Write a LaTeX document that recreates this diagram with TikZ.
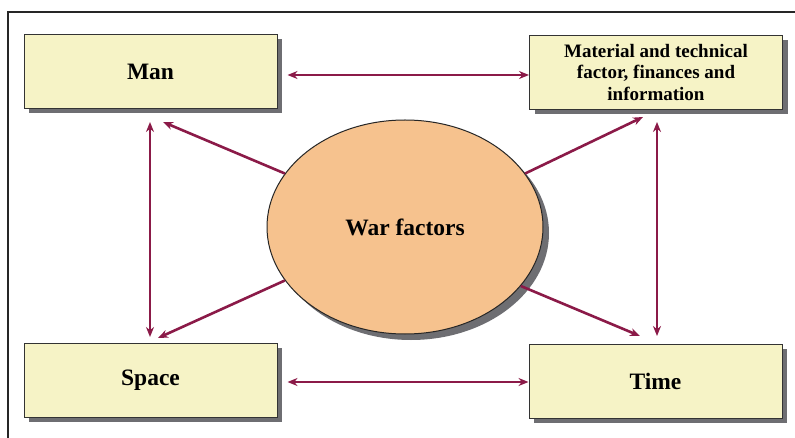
\documentclass[tikz,border=0pt]{standalone}
\usepackage{fontspec}
\setmainfont{Liberation Serif}
\usetikzlibrary{arrows.meta,shapes.geometric,shadows}
\definecolor{arr}{HTML}{8B1A48}
\definecolor{boxfill}{HTML}{F6F3C6}
\definecolor{ellfill}{HTML}{F6C28E}
\definecolor{shd}{HTML}{6E6E72}
\tikzset{
  fbox/.style={draw=black!80, line width=1pt, fill=boxfill, minimum width=253pt, minimum height=74pt,
    align=center, font=\bfseries\fontsize{19}{21.5}\selectfont,
    drop shadow={shadow xshift=5pt, shadow yshift=-5pt, fill=shd, opacity=1}},
  bigtxt/.style={font=\bfseries\fontsize{23.5}{26}\selectfont},
  conn/.style={draw=arr, line width=2.6pt, -{Stealth[length=10pt,width=8pt]}},
  dconn/.style={draw=arr, line width=2.6pt, {Stealth[length=10pt,width=8pt]}-{Stealth[length=10pt,width=8pt]}},
}
\begin{document}
\begin{tikzpicture}[x=1pt,y=-1pt]
\useasboundingbox (0,0) rectangle (795,438);
\fill[white] (0,0) rectangle (795,438);
\draw[line width=2pt, black!85] (8,438) -- (8,12) -- (795,12);

\node[fbox, bigtxt] (man) at (150.5,71.5) {Man};
\node[fbox] (mat) at (656,72.5) {Material and technical\\factor, finances and\\information};
\node[fbox, bigtxt] (space) at (150.5,380) {Space};
\node[fbox, bigtxt] (time) at (655.5,381) {Time};

\node[ellipse, draw=black!85, line width=1pt, fill=ellfill, minimum width=276pt, minimum height=214pt,
  bigtxt,
  drop shadow={shadow xshift=6pt, shadow yshift=-6pt, fill=shd, opacity=1}] (war) at (405,227) {War factors};

\coordinate (manb) at (150,122);
\coordinate (spacet) at (150,337);
\coordinate (matb) at (657,122);
\coordinate (timet) at (657,336);

\draw[dconn] (man.east |- 0,75) ++(10,0) -- (mat.west |- 0,75);
\draw[dconn] (space.east |- 0,382) ++(10,0) -- (time.west |- 0,382);
\draw[dconn] (manb) -- (spacet);
\draw[dconn] (matb) -- (timet);

\draw[conn] (war.156) -- (163,122);
\draw[conn] (war.204) -- (158,338);
\draw[conn] (war.24) -- (643,117);
\draw[conn] (war.-27) -- (640,336);
\end{tikzpicture}
\end{document}
